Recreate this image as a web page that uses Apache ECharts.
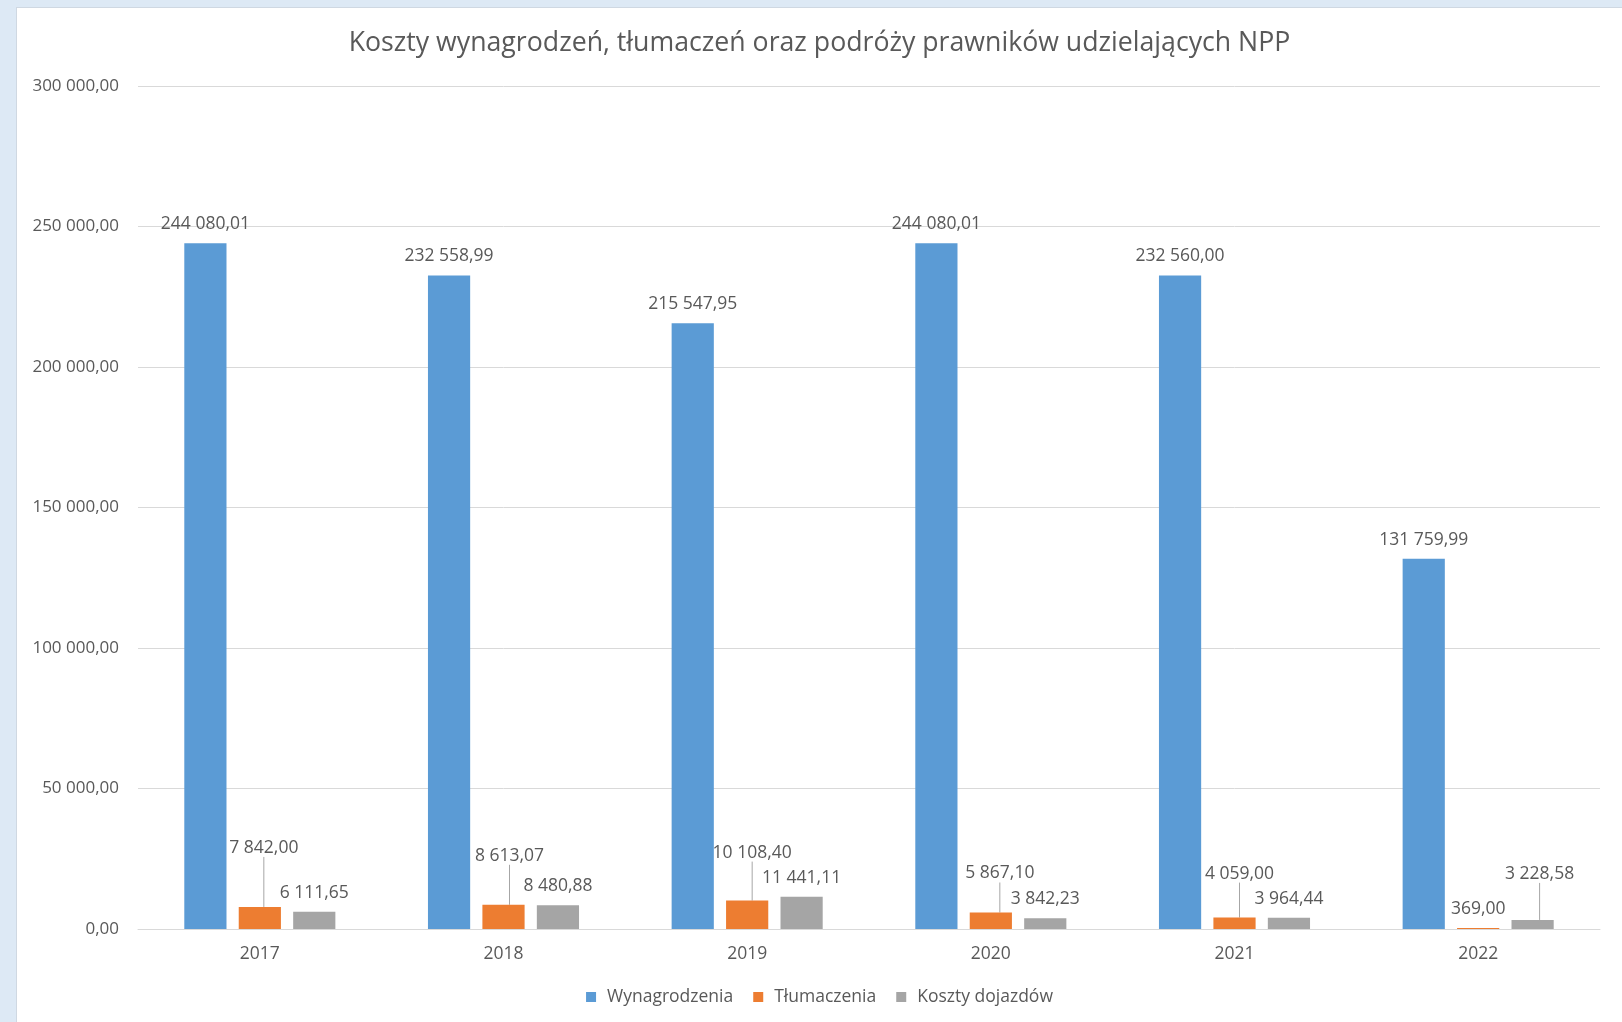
<!DOCTYPE html>
<html lang="pl">
<head>
<meta charset="utf-8">
<title>Koszty wynagrodzeń, tłumaczeń oraz podróży prawników udzielających NPP</title>
<script src="https://cdn.jsdelivr.net/npm/echarts@6/dist/echarts.min.js"></script>
<style>
  html, body { margin: 0; padding: 0; width: 1622px; height: 1022px; background: #dde9f5; overflow: hidden; }
  #chart {
    position: absolute; left: 16px; top: 7px; width: 1606px; height: 1015px;
    background: #ffffff; box-sizing: border-box;
    border-left: 1px solid #cfd8e2; border-top: 1px solid #cfd8e2;
  }
</style>
</head>
<body>
<div id="chart"></div>
<script>
// Lata
const years = ['2017', '2018', '2019', '2020', '2021', '2022'];

// Koszty w zł
const wynagrodzenia = [244080.01, 232558.99, 215547.95, 244080.01, 232560.00, 131759.99];
const tlumaczenia   = [7842.00, 8613.07, 10108.40, 5867.10, 4059.00, 369.00];
const dojazdy       = [6111.65, 8480.88, 11441.11, 3842.23, 3964.44, 3228.58];

const seriesNames = ['Wynagrodzenia', 'Tłumaczenia', 'Koszty dojazdów'];

// Podziałka osi wartości
const yMin = 0, yMax = 300000, yStep = 50000;

// Etykiety przesunięte ręcznie nad słupki (z linią odniesienia): [seria][rok] -> [dx, dy]
const labelShift = {
  1: { 0: [4, -40], 1: [6, -30], 2: [5, -29], 3: [9, -20], 4: [5, -25] },
  2: { 5: [7, -27] }
};

const TEXT = '#595959';
const FONT = '"Open Sans", "Noto Sans", sans-serif';
const FS = 17.5;

function plNumber(v) {
  const parts = v.toFixed(2).split('.');
  return parts[0].replace(/\B(?=(\d{3})+(?!\d))/g, ' ') + ',' + parts[1];
}

const chart = echarts.init(document.getElementById('chart'), null, { renderer: 'canvas' });

function barSeries(index, values, color) {
  const shifts = labelShift[index] || {};
  return {
    name: seriesNames[index],
    type: 'bar',
    // linia odniesienia tylko przy etykietach odsuniętych od słupka
    data: values.map((v, i) => ({ value: v, labelLine: { show: !!shifts[i] } })),
    barGap: '29%',
    barCategoryGap: '38%',
    itemStyle: { color: color },
    label: {
      show: true,
      position: 'top',
      distance: 10,
      color: TEXT,
      fontFamily: FONT,
      fontSize: FS,
      formatter: p => plNumber(p.value)
    },
    labelLine: {
      show: false,
      lineStyle: { color: '#a6a6a6', width: 1 }
    },
    labelLayout: function (params) {
      const d = shifts[params.dataIndex];
      return d ? { dx: d[0], dy: d[1] } : {};
    }
  };
}

chart.setOption({
  animation: false,
  textStyle: { fontFamily: FONT },
  title: {
    text: 'Koszty wynagrodzeń, tłumaczeń oraz podróży prawników udzielających NPP',
    left: 'center',
    top: 17,
    textStyle: { color: TEXT, fontFamily: FONT, fontSize: 26.7, fontWeight: 'normal' }
  },
  legend: {
    bottom: 11,
    left: 'center',
    itemWidth: 10,
    itemHeight: 10,
    itemGap: 20,
    icon: 'rect',
    textStyle: { color: TEXT, fontFamily: FONT, fontSize: FS, padding: [0, 0, 0, 6] },
    data: seriesNames
  },
  grid: { left: 121, right: 22, top: 78, bottom: 93, containLabel: false },
  xAxis: {
    type: 'category',
    data: years,
    axisLine: { show: true, lineStyle: { color: '#d9d9d9', width: 1 } },
    axisTick: { show: false },
    axisLabel: { color: TEXT, fontFamily: FONT, fontSize: FS, margin: 16 }
  },
  yAxis: {
    type: 'value',
    min: yMin,
    max: yMax,
    interval: yStep,
    axisLine: { show: false },
    axisTick: { show: false },
    splitLine: { lineStyle: { color: '#d9d9d9', width: 1 } },
    axisLabel: { color: TEXT, fontFamily: FONT, fontSize: 17, margin: 19, formatter: v => plNumber(v) }
  },
  series: [
    barSeries(0, wynagrodzenia, '#5b9bd5'),
    barSeries(1, tlumaczenia, '#ed7d31'),
    barSeries(2, dojazdy, '#a5a5a5')
  ]
});
</script>
</body>
</html>
